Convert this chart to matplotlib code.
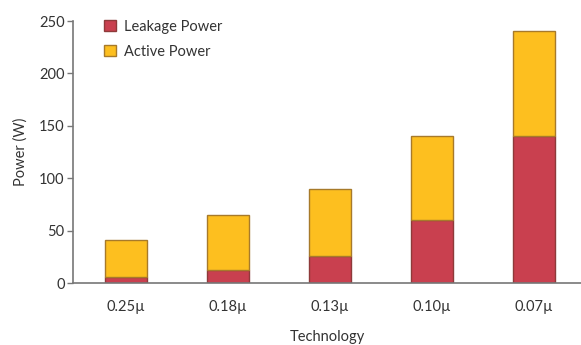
import matplotlib
matplotlib.use("Agg")
import matplotlib.pyplot as plt
import numpy as np

plt.rcParams['font.family'] = ['Lato', 'DejaVu Sans']

# power per process node, in watts
technology = ['0.25µ', '0.18µ', '0.13µ', '0.10µ', '0.07µ']
leakage_power = [6, 12, 26, 60, 140]
active_power = [35, 53, 64, 80, 100]

leak_color = '#c9404f'
active_color = '#fdbf1f'
axis_gray = '#777777'

fig = plt.figure(figsize=(5.81, 3.45), dpi=100)
ax = fig.add_axes([0.1256, 0.1797, 0.8744, 0.7594])

x = np.arange(len(technology))
ax.bar(x, leakage_power, width=0.41, color=leak_color,
       edgecolor='#8e3a3a', linewidth=1, label='Leakage Power')
ax.bar(x, active_power, width=0.41, bottom=leakage_power, color=active_color,
       edgecolor='#a77a2a', linewidth=1, label='Active Power')

ax.set_xlim(-0.52, 4.46)
ax.set_ylim(0, 250)
ax.set_yticks([0, 50, 100, 150, 200, 250])
ax.set_xticks(x)
ax.set_xticklabels(technology)

for side in ['top', 'right']:
    ax.spines[side].set_visible(False)
for side in ['left', 'bottom']:
    ax.spines[side].set_color(axis_gray)
    ax.spines[side].set_linewidth(1.2)

ax.tick_params(axis='y', length=4, width=1, color=axis_gray,
               labelsize=10.5, labelcolor='#333333', pad=2)
ax.tick_params(axis='x', length=0, labelsize=10.5, labelcolor='#333333', pad=12)

ax.set_ylabel('Power (W)', fontsize=10.5, color='#333333', labelpad=8)
ax.set_xlabel('Technology', fontsize=10.5, color='#333333', labelpad=12)

ax.legend(loc='upper left', bbox_to_anchor=(0.035, 1.055), frameon=False,
          fontsize=10.5, handlelength=0.85, handleheight=0.85,
          handletextpad=0.5, labelspacing=0.75, labelcolor='#333333')

fig.savefig('out.png', dpi=100)
